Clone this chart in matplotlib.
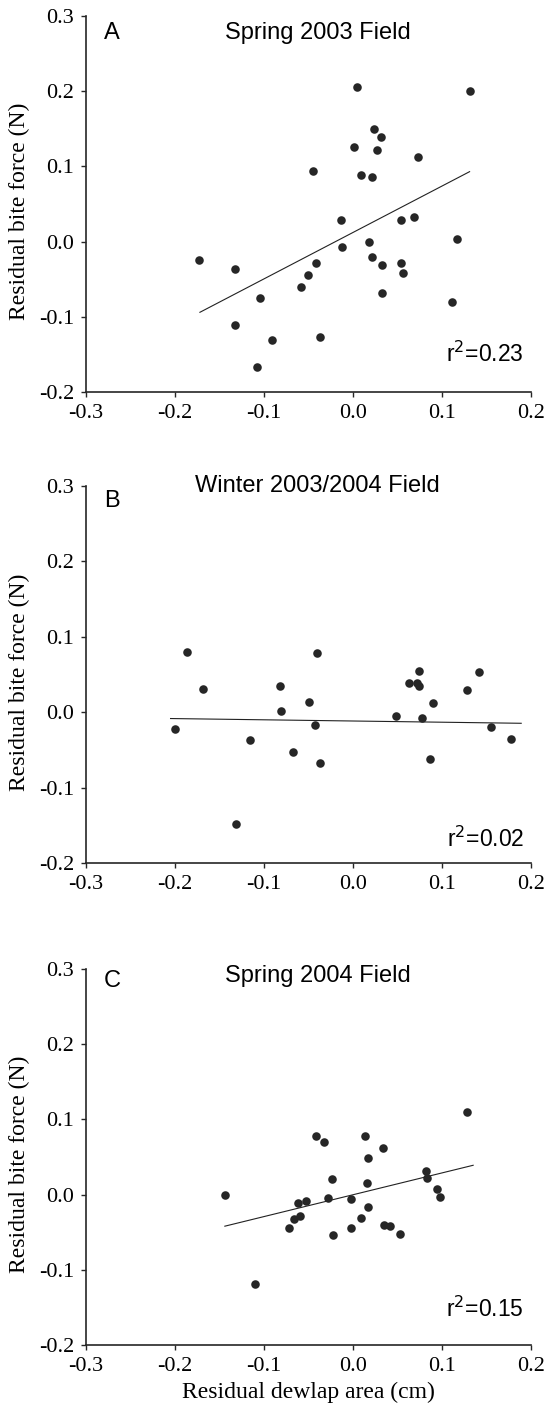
import matplotlib
matplotlib.use("Agg")
import matplotlib.pyplot as plt

plt.rcParams['axes.unicode_minus'] = False

# Panel A - Spring 2003 Field
a_x = [-0.173, -0.133, -0.133, -0.105, -0.108, -0.091, -0.058, -0.051, -0.045, -0.042,
       -0.037, -0.014, -0.012, 0.001, 0.005, 0.009, 0.018, 0.021, 0.021, 0.024,
       0.027, 0.031, 0.033, 0.033, 0.054, 0.054, 0.056, 0.069, 0.073, 0.111,
       0.117, 0.131]
a_y = [-0.025, -0.037, -0.111, -0.075, -0.167, -0.131, -0.061, -0.044, 0.094, -0.028,
       -0.127, 0.029, -0.007, 0.126, 0.205, 0.088, 0.000, 0.086, -0.020, 0.150,
       0.122, 0.139, -0.031, -0.068, 0.029, -0.029, -0.042, 0.033, 0.113, -0.080,
       0.004, 0.200]
a_fit_x = [-0.172, 0.131]
a_fit_y = [-0.094, 0.093]

# Panel B - Winter 2003/2004 Field
b_x = [-0.200, -0.187, -0.169, -0.132, -0.116, -0.082, -0.081, -0.067, -0.050, -0.043,
       -0.041, -0.037, 0.048, 0.063, 0.072, 0.074, 0.074, 0.078, 0.086, 0.090,
       0.128, 0.142, 0.155, 0.178]
b_y = [-0.022, 0.080, 0.031, -0.148, -0.037, 0.035, 0.001, -0.053, 0.014, -0.017,
       0.078, -0.067, -0.005, 0.039, 0.039, 0.055, 0.035, -0.008, -0.062, 0.012,
       0.029, 0.053, -0.020, -0.035]
b_fit_x = [-0.205, 0.189]
b_fit_y = [-0.0084, -0.0147]

# Panel C - Spring 2004 Field
c_x = [-0.144, -0.110, -0.072, -0.066, -0.062, -0.059, -0.053, -0.042, -0.033, -0.028,
       -0.024, -0.022, -0.002, -0.002, 0.009, 0.013, 0.016, 0.017, 0.017, 0.034,
       0.035, 0.042, 0.053, 0.082, 0.083, 0.094, 0.098, 0.128]
c_y = [0.000, -0.119, -0.044, -0.032, -0.011, -0.029, -0.009, 0.078, 0.070, -0.004,
       0.021, -0.054, -0.006, -0.045, -0.031, 0.078, 0.015, 0.049, -0.016, 0.062,
       -0.040, -0.042, -0.052, 0.032, 0.022, 0.008, -0.003, 0.110]
c_fit_x = [-0.144, 0.135]
c_fit_y = [-0.042, 0.039]

panels = [
    ("A", "Spring 2003 Field", a_x, a_y, a_fit_x, a_fit_y, "0.23"),
    ("B", "Winter 2003/2004 Field", b_x, b_y, b_fit_x, b_fit_y, "0.02"),
    ("C", "Spring 2004 Field", c_x, c_y, c_fit_x, c_fit_y, "0.15"),
]

xticks = [-0.3, -0.2, -0.1, 0.0, 0.1, 0.2]
yticks = [-0.2, -0.1, 0.0, 0.1, 0.2, 0.3]

W, H = 545, 1406
fig = plt.figure(figsize=(W / 100, H / 100), dpi=100)

# pixel boxes (left, top, right, bottom)
boxes = [(86, 16, 531, 392), (86, 486, 531, 863), (86, 969, 531, 1345)]
title_off = [23, 6, 13]     # baseline offset below axes top (px)
letter_off = [23, 21, 18]
r2_off = [30, 16, 28]       # baseline offset above axes bottom (px)

serif = 'Liberation Serif'
sans = 'Liberation Sans'
dark = '#262626'

for i, (letter, title, xs, ys, fx, fy, r2) in enumerate(panels):
    l, t, r, b = boxes[i]
    ax = fig.add_axes([l / W, 1 - b / H, (r - l) / W, (b - t) / H])
    ax.scatter(xs, ys, s=38, color=dark, zorder=3, linewidths=0)
    ax.plot(fx, fy, color='#222222', lw=0.8)
    ax.set_xlim(-0.3, 0.2)
    ax.set_ylim(-0.2, 0.3)
    ax.set_xticks(xticks)
    ax.set_yticks(yticks)
    ax.set_xticklabels([f"{v:.1f}" for v in xticks], fontfamily=serif, fontsize=16)
    ax.set_yticklabels([f"{v:.1f}" for v in yticks], fontfamily=serif, fontsize=16)
    for s in ('top', 'right'):
        ax.spines[s].set_visible(False)
    for s in ('left', 'bottom'):
        ax.spines[s].set_color(dark)
        ax.spines[s].set_linewidth(1.2)
    ax.tick_params(direction='out', length=3.5, width=1.0, color=dark, pad=5)
    ax.set_ylabel("Residual bite force (N)", fontfamily=serif, fontsize=17)
    ax.yaxis.set_label_coords(-0.125, 0.48)
    h = b - t
    ax.text(0.52, 1 - title_off[i] / h, title, transform=ax.transAxes,
            ha='center', va='baseline', fontfamily=sans, fontsize=17)
    ax.text(18 / (r - l), 1 - letter_off[i] / h, letter, transform=ax.transAxes,
            ha='left', va='baseline', fontfamily=sans, fontsize=17)
    ax.text(1 - 7 / (r - l), r2_off[i] / h, "r$^{2}$=" + r2, transform=ax.transAxes,
            ha='right', va='baseline', fontfamily=sans, fontsize=16.5)
    if letter == "C":
        ax.set_xlabel("Residual dewlap area (cm)", fontfamily=serif, fontsize=17, labelpad=4)

fig.savefig("out.png", dpi=100)
